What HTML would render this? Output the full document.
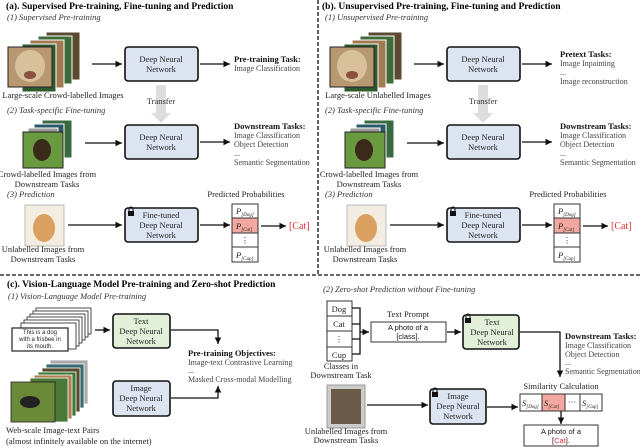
<!DOCTYPE html>
<html><head><meta charset="utf-8"><style>
html,body{margin:0;padding:0;background:#fff}
svg{display:block;font-family:"Liberation Serif",serif}
.t{font-size:8.5px;fill:#222}
.g{font-size:8px;fill:#444}
.b{font-weight:bold;fill:#111}
.h{font-size:9.5px;font-weight:bold;fill:#000}
.i{font-style:italic;font-size:8.5px;fill:#333}
.box{fill:#dce4f2;stroke:#111;stroke-width:1.6}
.gbox{fill:#e2f0d9;stroke:#111;stroke-width:1.6}
.ln{stroke:#111;stroke-width:1.3;fill:none}
</style></head><body>
<svg width="640" height="447" viewBox="0 0 640 447" xmlns="http://www.w3.org/2000/svg">
<defs>
<marker id="a" markerWidth="6" markerHeight="6" refX="5" refY="3" orient="auto"><path d="M0,0.5 L5,3 L0,5.5z" fill="#111"/></marker>
<g id="stackA">
 <rect x="46" y="32" width="34" height="48" fill="#5a4a30" stroke="#fff"/>
 <rect x="38" y="36" width="34" height="48" fill="#3f6b3a" stroke="#fff"/>
 <rect x="30" y="40" width="34" height="48" fill="#a07a50" stroke="#fff"/>
 <rect x="22" y="44" width="34" height="48" fill="#2e5a2e" stroke="#fff"/>
 <rect x="8" y="47" width="44" height="40" fill="#b89870" stroke="#222"/>
 <ellipse cx="30" cy="66" rx="15" ry="16" fill="#d8c09a"/>
 <ellipse cx="30" cy="75" rx="6" ry="4" fill="#8a5040"/>
</g>
<g id="stackB">
 <rect x="42" y="120" width="30" height="38" fill="#3a6a40" stroke="#fff"/>
 <rect x="34" y="124" width="30" height="38" fill="#2a5a6a" stroke="#fff"/>
 <rect x="28" y="128" width="30" height="38" fill="#999" stroke="#fff"/>
 <rect x="23" y="132" width="40" height="36" fill="#6a9a40" stroke="#222"/>
 <ellipse cx="42" cy="150" rx="9" ry="11" fill="#3a2a1a"/>
</g>
<g id="cat">
 <rect x="25" y="205" width="39" height="41" fill="#f3ece0" stroke="#bbb"/>
 <ellipse cx="44" cy="228" rx="11" ry="14" fill="#d9a060"/>
</g>
<g id="col">
 <text x="0" y="0" class="t"> </text>
</g>
</defs>

<!-- ============ PANEL A ============ -->
<g id="pa">
<text x="6" y="9" class="h">(a). Supervised Pre-training, Fine-tuning and Prediction</text>
<text x="7" y="20" class="i">(1) Supervised Pre-training</text>
<use href="#stackA"/>
<text x="63" y="98" class="t" text-anchor="middle">Large-scale Crowd-labelled Images</text>
<line x1="92" y1="64" x2="122" y2="64" class="ln" marker-end="url(#a)"/>
<rect x="125" y="47" width="73" height="34" rx="3" class="box"/>
<text x="161" y="62" class="t" text-anchor="middle">Deep Neural</text>
<text x="161" y="72" class="t" text-anchor="middle">Network</text>
<line x1="200" y1="64" x2="230" y2="64" class="ln" marker-end="url(#a)"/>
<text x="234" y="62" class="t b">Pre-training Task:</text>
<text x="234" y="71" class="g">Image Classification</text>
<path d="M156,85 h10 v28 h5 l-10,10 l-10,-10 h5z" fill="#ddd"/>
<text x="161" y="104" class="t" text-anchor="middle" style="fill:#333">Transfer</text>
<text x="7" y="113" class="i">(2) Task-specific Fine-tuning</text>
<use href="#stackB"/>
<text x="47" y="177" class="t" text-anchor="middle">Crowd-labelled Images from</text>
<text x="47" y="187" class="t" text-anchor="middle">Downstream Tasks</text>
<line x1="85" y1="143" x2="122" y2="143" class="ln" marker-end="url(#a)"/>
<rect x="125" y="125" width="73" height="34" rx="3" class="box"/>
<text x="161" y="140" class="t" text-anchor="middle">Deep Neural</text>
<text x="161" y="150" class="t" text-anchor="middle">Network</text>
<line x1="200" y1="142" x2="230" y2="142" class="ln" marker-end="url(#a)"/>
<text x="234" y="129" class="t b">Downstream Tasks:</text>
<text x="234" y="138" class="g">Image Classification</text>
<text x="234" y="147" class="g">Object Detection</text>
<text x="234" y="156" class="g">...</text>
<text x="234" y="165" class="g">Semantic Segmentation</text>
<text x="7" y="197" class="i">(3) Prediction</text>
<text x="246" y="197" class="t" text-anchor="middle">Predicted Probabilities</text>
<use href="#cat"/>
<text x="43" y="252" class="t" text-anchor="middle">Unlabelled Images from</text>
<text x="43" y="262" class="t" text-anchor="middle">Downstream Tasks</text>
<line x1="68" y1="225" x2="122" y2="225" class="ln" marker-end="url(#a)"/>
<rect x="125" y="208" width="73" height="34" rx="3" class="box"/>
<rect x="128" y="211" width="6" height="5" fill="#111"/><path d="M129,211 v-2 a2,2 0 0 1 4,0 v2" stroke="#111" fill="none"/>
<text x="161" y="218" class="t" text-anchor="middle">Fine-tuned</text>
<text x="161" y="228" class="t" text-anchor="middle">Deep Neural</text>
<text x="161" y="238" class="t" text-anchor="middle">Network</text>
<line x1="200" y1="225" x2="230" y2="225" class="ln" marker-end="url(#a)"/>
<rect x="232" y="204" width="26" height="14" fill="#fff" stroke="#333"/>
<rect x="232" y="218" width="26" height="15" fill="#f2a8a0" stroke="#333"/>
<rect x="232" y="233" width="26" height="14" fill="#fff" stroke="#333"/>
<rect x="232" y="247" width="26" height="15" fill="#fff" stroke="#333"/>
<text x="236" y="214" class="t" font-style="italic">P<tspan font-size="5" dy="2">[Dog]</tspan></text>
<text x="236" y="229" class="t" font-style="italic">P<tspan font-size="5" dy="2">[Cat]</tspan></text>
<text x="245" y="243" class="t" text-anchor="middle">⋮</text>
<text x="236" y="258" class="t" font-style="italic">P<tspan font-size="5" dy="2">[Cup]</tspan></text>
<line x1="261" y1="226" x2="286" y2="226" class="ln" marker-end="url(#a)"/>
<text x="289" y="229" style="font-size:10px;fill:#e03030">[Cat]</text>
</g>

<!-- ============ PANEL B ============ -->
<g transform="translate(322,0)">
<text x="0" y="9" class="h">(b). Unsupervised Pre-training, Fine-tuning and Prediction</text>
<text x="3" y="20" class="i">(1) Unsupervised Pre-training</text>
<use href="#stackA"/>
<text x="56" y="98" class="t" text-anchor="middle">Large-scale Unlabelled Images</text>
<line x1="92" y1="64" x2="122" y2="64" class="ln" marker-end="url(#a)"/>
<rect x="125" y="47" width="73" height="34" rx="3" class="box"/>
<text x="161" y="62" class="t" text-anchor="middle">Deep Neural</text>
<text x="161" y="72" class="t" text-anchor="middle">Network</text>
<line x1="200" y1="64" x2="230" y2="64" class="ln" marker-end="url(#a)"/>
<text x="238" y="57" class="t b">Pretext Tasks:</text>
<text x="238" y="66" class="g">Image Inpainting</text>
<text x="238" y="75" class="g">...</text>
<text x="238" y="84" class="g">Image reconstruction</text>
<path d="M156,85 h10 v28 h5 l-10,10 l-10,-10 h5z" fill="#ddd"/>
<text x="161" y="104" class="t" text-anchor="middle" style="fill:#333">Transfer</text>
<text x="3" y="113" class="i">(2) Task-specific Fine-tuning</text>
<use href="#stackB"/>
<text x="47" y="177" class="t" text-anchor="middle">Crowd-labelled Images from</text>
<text x="47" y="187" class="t" text-anchor="middle">Downstream Tasks</text>
<line x1="85" y1="143" x2="122" y2="143" class="ln" marker-end="url(#a)"/>
<rect x="125" y="125" width="73" height="34" rx="3" class="box"/>
<text x="161" y="140" class="t" text-anchor="middle">Deep Neural</text>
<text x="161" y="150" class="t" text-anchor="middle">Network</text>
<line x1="200" y1="142" x2="230" y2="142" class="ln" marker-end="url(#a)"/>
<text x="238" y="129" class="t b">Downstream Tasks:</text>
<text x="238" y="138" class="g">Image Classification</text>
<text x="238" y="147" class="g">Object Detection</text>
<text x="238" y="156" class="g">...</text>
<text x="238" y="165" class="g">Semantic Segmentation</text>
<text x="3" y="197" class="i">(3) Prediction</text>
<text x="246" y="197" class="t" text-anchor="middle">Predicted Probabilities</text>
<use href="#cat"/>
<text x="43" y="252" class="t" text-anchor="middle">Unlabelled Images from</text>
<text x="43" y="262" class="t" text-anchor="middle">Downstream Tasks</text>
<line x1="68" y1="225" x2="122" y2="225" class="ln" marker-end="url(#a)"/>
<rect x="125" y="208" width="73" height="34" rx="3" class="box"/>
<rect x="128" y="211" width="6" height="5" fill="#111"/><path d="M129,211 v-2 a2,2 0 0 1 4,0 v2" stroke="#111" fill="none"/>
<text x="161" y="218" class="t" text-anchor="middle">Fine-tuned</text>
<text x="161" y="228" class="t" text-anchor="middle">Deep Neural</text>
<text x="161" y="238" class="t" text-anchor="middle">Network</text>
<line x1="200" y1="225" x2="230" y2="225" class="ln" marker-end="url(#a)"/>
<rect x="232" y="204" width="26" height="14" fill="#fff" stroke="#333"/>
<rect x="232" y="218" width="26" height="15" fill="#f2a8a0" stroke="#333"/>
<rect x="232" y="233" width="26" height="14" fill="#fff" stroke="#333"/>
<rect x="232" y="247" width="26" height="15" fill="#fff" stroke="#333"/>
<text x="236" y="214" class="t" font-style="italic">P<tspan font-size="5" dy="2">[Dog]</tspan></text>
<text x="236" y="229" class="t" font-style="italic">P<tspan font-size="5" dy="2">[Cat]</tspan></text>
<text x="245" y="243" class="t" text-anchor="middle">⋮</text>
<text x="236" y="258" class="t" font-style="italic">P<tspan font-size="5" dy="2">[Cup]</tspan></text>
<line x1="261" y1="226" x2="286" y2="226" class="ln" marker-end="url(#a)"/>
<text x="289" y="229" style="font-size:10px;fill:#e03030">[Cat]</text>
</g>

<!-- dividers -->
<line x1="318" y1="0" x2="318" y2="274" stroke="#111" stroke-width="1.3" stroke-dasharray="4,2"/>
<line x1="0" y1="275" x2="640" y2="275" stroke="#111" stroke-width="1.3" stroke-dasharray="4,2"/>

<!-- ============ PANEL C ============ -->
<text x="7" y="287" class="h">(c). Vision-Language Model Pre-training and Zero-shot Prediction</text>
<text x="8" y="299" class="i">(1) Vision-Language Model Pre-training</text>
<g fill="#fff" stroke="#222" stroke-width="0.8">
<rect x="36" y="308" width="55" height="26"/><rect x="33" y="311" width="55" height="26"/><rect x="30" y="314" width="55" height="26"/><rect x="27" y="317" width="55" height="26"/><rect x="24" y="320" width="55" height="26"/><rect x="21" y="323" width="55" height="26"/>
<rect x="12" y="328" width="56" height="23" stroke-width="1.2"/>
</g>
<g style="font-family:'Liberation Sans',sans-serif;font-size:6px;fill:#222" text-anchor="middle">
<text x="40" y="334">This is a dog</text><text x="40" y="341">with a frisbee in</text><text x="40" y="348">its mouth.</text></g>
<line x1="95" y1="330" x2="110" y2="330" class="ln" marker-end="url(#a)"/>
<rect x="113" y="314" width="57" height="34" rx="3" class="gbox"/>
<text x="141" y="324" class="t" text-anchor="middle">Text</text>
<text x="141" y="334" class="t" text-anchor="middle">Deep Neural</text>
<text x="141" y="344" class="t" text-anchor="middle">Network</text>
<path d="M171,330 H218 V344" class="ln" marker-end="url(#a)"/>
<text x="188" y="356" class="t b">Pre-training Objectives:</text>
<text x="188" y="365" class="g">Image-text Contrastive Learning</text>
<text x="188" y="373" class="g">...</text>
<text x="188" y="382" class="g">Masked Cross-modal Modelling</text>
<rect x="113" y="381" width="57" height="35" rx="3" class="box"/>
<text x="141" y="391" class="t" text-anchor="middle">Image</text>
<text x="141" y="401" class="t" text-anchor="middle">Deep Neural</text>
<text x="141" y="411" class="t" text-anchor="middle">Network</text>
<path d="M171,398 H218 V386" class="ln" marker-end="url(#a)"/>
<g stroke="#fff" stroke-width="0.8">
<rect x="50" y="360" width="38" height="44" fill="#aaa"/><rect x="46" y="364" width="38" height="44" fill="#3a6a70"/><rect x="42" y="368" width="38" height="44" fill="#5a4a30"/><rect x="38" y="372" width="38" height="44" fill="#3a7a3a"/><rect x="34" y="375" width="38" height="44" fill="#b08050"/><rect x="30" y="378" width="38" height="44" fill="#4a7a3a"/>
<rect x="11" y="382" width="44" height="40" fill="#6a8a3a" stroke="#222"/>
</g>
<ellipse cx="30" cy="402" rx="10" ry="6" fill="#222"/>
<text x="6" y="433" class="t">Web-scale Image-text Pairs</text>
<text x="6" y="444" class="t">(almost infinitely available on the internet)</text>

<!-- (2) zero-shot -->
<text x="323" y="292" class="i">(2) Zero-shot Prediction without Fine-tuning</text>
<g fill="#fff" stroke="#333">
<rect x="327" y="301" width="25" height="15"/><rect x="327" y="316" width="25" height="15"/><rect x="327" y="331" width="25" height="16"/><rect x="327" y="347" width="25" height="14"/>
</g>
<text x="339" y="312" class="t" text-anchor="middle">Dog</text>
<text x="339" y="327" class="t" text-anchor="middle">Cat</text>
<text x="339" y="342" class="t" text-anchor="middle">⋮</text>
<text x="339" y="358" class="t" text-anchor="middle">Cup</text>
<path d="M352,308 H360 V354 H352 M352,324 H360 M352,339 H360" class="ln" stroke-width="1"/>
<line x1="360" y1="332" x2="369" y2="332" class="ln" marker-end="url(#a)"/>
<text x="341" y="369" class="t" text-anchor="middle">Classes in</text>
<text x="341" y="378" class="t" text-anchor="middle">Downstream Task</text>
<text x="408" y="317" class="t" text-anchor="middle">Text Prompt</text>
<rect x="371" y="322" width="75" height="20" fill="#fff" stroke="#333"/>
<g style="font-family:'Liberation Sans',sans-serif;font-size:7.5px;fill:#111" text-anchor="middle"><text x="408" y="330">A photo of a</text><text x="408" y="339">[class].</text></g>
<line x1="447" y1="332" x2="461" y2="332" class="ln" stroke-width="2" marker-end="url(#a)"/>
<rect x="463" y="315" width="56" height="34" rx="3" class="gbox"/>
<rect x="465" y="318" width="6" height="5" fill="#111"/><path d="M466,318 v-2 a2,2 0 0 1 4,0 v2" stroke="#111" fill="none"/>
<text x="492" y="325" class="t" text-anchor="middle">Text</text>
<text x="492" y="335" class="t" text-anchor="middle">Deep Neural</text>
<text x="492" y="345" class="t" text-anchor="middle">Network</text>
<path d="M520,332 H560 V377" class="ln" marker-end="url(#a)"/>
<text x="565" y="339" class="t b">Downstream Tasks:</text>
<text x="565" y="348" class="g">Image Classification</text>
<text x="565" y="357" class="g">Object Detection</text>
<text x="565" y="365" class="g">...</text>
<text x="565" y="374" class="g">Semantic Segmentation</text>
<text x="561" y="389" class="t" text-anchor="middle">Similarity Calculation</text>
<rect x="327" y="385" width="38" height="43" fill="#ccc" stroke="#999"/>
<rect x="331" y="389" width="30" height="35" fill="#6a5a48"/>
<text x="346" y="434" class="t" text-anchor="middle">Unlabelled Images from</text>
<text x="346" y="443" class="t" text-anchor="middle">Downstream Tasks</text>
<line x1="367" y1="405" x2="428" y2="405" class="ln" marker-end="url(#a)"/>
<rect x="430" y="389" width="56" height="35" rx="3" class="box"/>
<rect x="432" y="392" width="6" height="5" fill="#111"/><path d="M433,392 v-2 a2,2 0 0 1 4,0 v2" stroke="#111" fill="none"/>
<text x="458" y="399" class="t" text-anchor="middle">Image</text>
<text x="458" y="409" class="t" text-anchor="middle">Deep Neural</text>
<text x="458" y="419" class="t" text-anchor="middle">Network</text>
<line x1="487" y1="407" x2="518" y2="407" class="ln" marker-end="url(#a)"/>
<rect x="520" y="394" width="22" height="17" fill="#fff" stroke="#333"/>
<rect x="542" y="394" width="23" height="17" fill="#f2a8a0" stroke="#333"/>
<rect x="565" y="394" width="15" height="17" fill="#fff" stroke="#333"/>
<rect x="580" y="394" width="22" height="17" fill="#fff" stroke="#333"/>
<text x="522" y="406" class="t" font-style="italic">S<tspan font-size="5" dy="2">[Dog]</tspan></text>
<text x="544" y="406" class="t" font-style="italic">S<tspan font-size="5" dy="2">[Cat]</tspan></text>
<text x="572" y="405" class="t" text-anchor="middle">···</text>
<text x="582" y="406" class="t" font-style="italic">S<tspan font-size="5" dy="2">[Cup]</tspan></text>
<line x1="561" y1="411" x2="561" y2="424" class="ln" marker-end="url(#a)"/>
<rect x="524" y="425" width="74" height="21" fill="#fff" stroke="#333"/>
<g style="font-family:'Liberation Sans',sans-serif;font-size:7.5px;fill:#111" text-anchor="middle"><text x="561" y="434">A photo of a</text><text x="561" y="443">[<tspan fill="#e03030">Cat</tspan>].</text></g>
</svg>
</body></html>
